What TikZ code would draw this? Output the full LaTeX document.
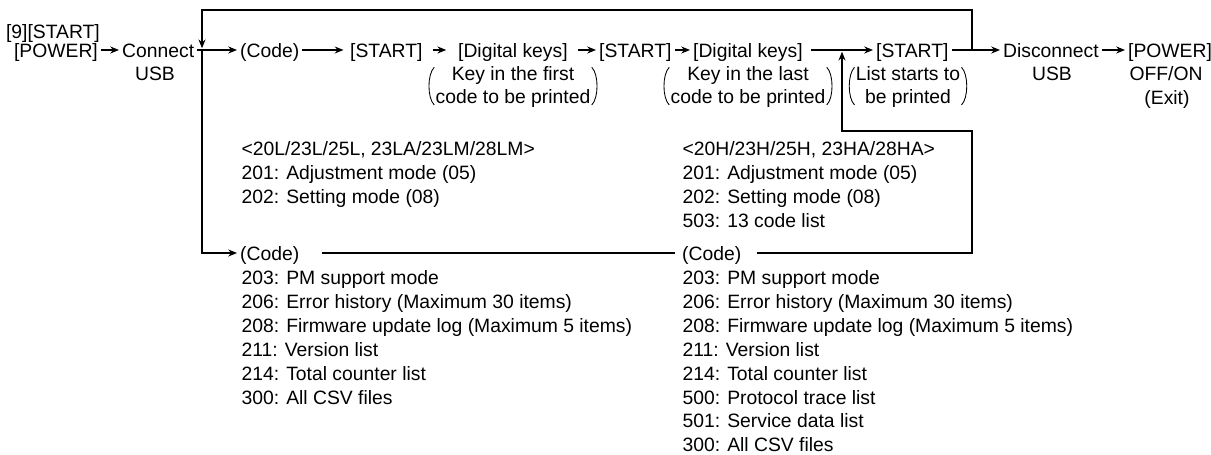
\documentclass[tikz,border=0pt]{standalone}
\usepackage{fontspec}
\setmainfont{Liberation Sans}
\usetikzlibrary{arrows.meta, positioning}

\begin{document}
\begin{tikzpicture}[
  x=0.02cm, y=-0.02cm,
  line width=0.6pt,
  txt/.style={inner xsep=1.5pt, inner ysep=0pt, text height=8pt, text depth=0pt, font=\fontsize{11}{13.6}\selectfont},
  paren/.style={align=center, inner xsep=2pt, inner ysep=0pt, font=\fontsize{11}{13.6}\selectfont},
  list/.style={align=left, anchor=north west, inner sep=0pt, font=\fontsize{11}{13.6}\selectfont},
  arrow/.style={-{Stealth[length=5pt, width=4pt]}}
]
  \useasboundingbox (0,0) rectangle (1211,455);

  % main row
  \node[txt, anchor=east] (nine) at (103,31) {[9][START]};
  \node[txt, anchor=east] (pwr) at (101,50) {[POWER]};
  \node[txt, anchor=west] (conn) at (119,50) {Connect};
  \node[txt] (usbc) at (155,73) {USB};
  \node[txt, anchor=west] (code1) at (237,50) {(Code)};
  \node[txt, anchor=west] (start1) at (347,50) {[START]};
  \node[txt, anchor=west] (dig1) at (455,50) {[Digital keys]};
  \node[paren] (first) at (513,87) {Key in the first\\code to be printed};
  \node[txt, anchor=west] (start2) at (596,50) {[START]};
  \node[txt, anchor=west] (dig2) at (690,50) {[Digital keys]};
  \node[paren] (last) at (748,87) {Key in the last\\code to be printed};
  \node[txt, anchor=west] (start3) at (873,50) {[START]};
  \node[paren] (prints) at (908,87) {List starts to\\be printed};
  \node[txt, anchor=west] (disc) at (1000,50) {Disconnect};
  \node[txt] (usbd) at (1052,73) {USB};
  \node[txt, anchor=west] (poff) at (1125,50) {[POWER]};
  \node[txt] (offon) at (1166,73) {OFF/ON};
  \node[txt] (exit) at (1167,97) {(Exit)};

  % parentheses round the notes
  \foreach \n in {first,last,prints} {
    \draw[line width=0.5pt] ([xshift=1.5pt,yshift=-1pt]\n.north west) .. controls ([xshift=-2.5pt,yshift=-5pt]\n.north west) and ([xshift=-2.5pt,yshift=6pt]\n.south west) .. ([xshift=1.5pt,yshift=2pt]\n.south west);
    \draw[line width=0.5pt] ([xshift=-1.5pt,yshift=-1pt]\n.north east) .. controls ([xshift=2.5pt,yshift=-5pt]\n.north east) and ([xshift=2.5pt,yshift=6pt]\n.south east) .. ([xshift=-1.5pt,yshift=2pt]\n.south east);
  }

  % code lists
  \node[list] (modesL) at (241,141) {<20L/23L/25L, 23LA/23LM/28LM>\\201: Adjustment mode (05)\\202: Setting mode (08)};
  \node[list] (modesR) at (682,141) {<20H/23H/25H, 23HA/28HA>\\201: Adjustment mode (05)\\202: Setting mode (08)\\503: 13 code list};
  \node[txt, anchor=west] (code3) at (237,253) {(Code)};
  \node[txt, anchor=west] (code4) at (679,253) {(Code)};
  \node[list] (itemsL) at (241,270) {203: PM support mode\\206: Error history (Maximum 30 items)\\208: Firmware update log (Maximum 5 items)\\211: Version list\\214: Total counter list\\300: All CSV files};
  \node[list] (itemsR) at (682,270) {203: PM support mode\\206: Error history (Maximum 30 items)\\208: Firmware update log (Maximum 5 items)\\211: Version list\\214: Total counter list\\500: Protocol trace list\\501: Service data list\\300: All CSV files};

  % junctions
  \coordinate (j1) at (202,50);
  \coordinate (j2) at (842,50);
  \coordinate (j3) at (972,50);
  \coordinate (topL) at (202,10);
  \coordinate (topR) at (972,10);
  \coordinate (lowR) at (972,131);
  \coordinate (lowL) at (842,131);

  % connectors
  \draw[arrow] (pwr) -- (conn);
  \draw (conn) -- (j1);
  \draw[arrow] (j1) -- (code1);
  \draw[arrow, shorten >=2pt] (code1) -- (start1);
  \draw[arrow, shorten <=4pt, shorten >=5pt] (start1) -- (dig1);
  \draw[arrow, shorten <=4pt] (dig1) -- (start2);
  \draw[arrow] (start2) -- (dig2);
  \draw[shorten <=3pt] (dig2) -- (j2);
  \draw[arrow] (j2) -- (start3);
  \draw (start3) -- (j3);
  \draw[arrow] (j3) -- (disc);
  \draw[arrow] (disc) -- (poff);
  \draw[arrow, shorten >=1pt] (j3) -- (topR) -- (topL) -- (j1);
  \draw[arrow] (j1) |- (code3);
  \draw[shorten <=11pt, shorten >=2.5pt] (code3) -- (code4);
  \draw[arrow, shorten <=7pt, shorten >=1pt] (code4) -| (lowR) -- (lowL) -- (j2);
\end{tikzpicture}
\end{document}
